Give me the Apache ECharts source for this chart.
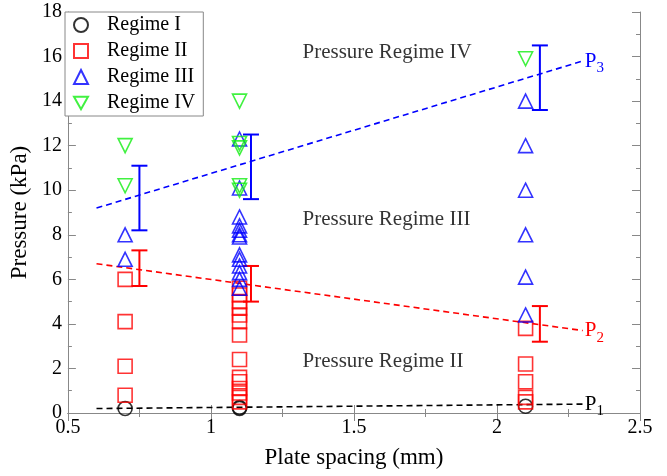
<!DOCTYPE html>
<html>
<head>
<meta charset="utf-8">
<script src="https://cdn.jsdelivr.net/npm/echarts@6/dist/echarts.min.js"></script>
<style>
  html, body { margin: 0; padding: 0; background: #fff; }
  #main { width: 667px; height: 476px; }
</style>
</head>
<body>
<div id="main"></div>
<script>
var chartDom = document.getElementById('main');
var myChart = echarts.init(chartDom);
var option;

var FONT = 'Liberation Serif';

// measured points, [plate spacing, pressure]
var regimeI = [[0.7, 0.2], [1.1, 0.2], [1.1, 0.25], [2.1, 0.3]];
var regimeII = [
  [0.7, 6.0], [0.7, 4.1], [0.7, 2.1], [0.7, 0.8],
  [1.1, 5.6], [1.1, 5.3], [1.1, 5.0], [1.1, 4.7], [1.1, 4.4], [1.1, 4.1], [1.1, 3.5],
  [1.1, 2.4], [1.1, 1.6], [1.1, 1.4], [1.1, 1.1], [1.1, 0.9], [1.1, 0.7], [1.1, 0.5],
  [2.1, 3.8], [2.1, 2.2], [2.1, 1.4], [2.1, 0.7], [2.1, 0.5]
];
var regimeIII = [
  [0.7, 8.0], [0.7, 6.9],
  [1.1, 12.3], [1.1, 10.1], [1.1, 8.8], [1.1, 8.4], [1.1, 8.2], [1.1, 8.0], [1.1, 7.9],
  [1.1, 7.1], [1.1, 6.9], [1.1, 6.6], [1.1, 6.3], [1.1, 6.0], [1.1, 5.6],
  [2.1, 14.0], [2.1, 12.0], [2.1, 10.0], [2.1, 8.0], [2.1, 6.1], [2.1, 4.4]
];
var regimeIV = [
  [0.7, 12.0], [0.7, 10.2],
  [1.1, 14.0], [1.1, 12.1], [1.1, 11.9], [1.1, 10.2], [1.1, 10.0],
  [2.1, 15.9]
];

// fitted boundaries
var lineP1 = [[0.6, 0.2], [2.3, 0.4]];
var lineP2 = [[0.6, 6.7], [2.3, 3.7]];
var lineP3 = [[0.6, 9.2], [2.3, 15.8]];

// error bars [x, low, high]
var errP2 = [[0.75, 5.7, 7.3], [1.14, 5.0, 6.6], [2.15, 3.2, 4.8]];
var errP3 = [[0.75, 8.2, 11.1], [1.14, 9.6, 12.5], [2.15, 13.6, 16.5]];

// region labels [x of left edge, y, text]
var regionLabels = [
  [1.32, 16.2, 'Pressure Regime IV'],
  [1.32, 8.7, 'Pressure Regime III'],
  [1.32, 2.3, 'Pressure Regime II']
];

var DOWN_TRI = 'path://M0,0 L10,0 L5,9 Z';

function errorBar(color) {
  return function (params, api) {
    var x = api.value(0);
    var lo = api.coord([x, api.value(1)]);
    var hi = api.coord([x, api.value(2)]);
    var w = 8;
    var style = { stroke: color, lineWidth: 2 };
    return {
      type: 'group',
      children: [
        { type: 'line', shape: { x1: lo[0], y1: lo[1], x2: hi[0], y2: hi[1] }, style: style },
        { type: 'line', shape: { x1: lo[0] - w, y1: lo[1], x2: lo[0] + w, y2: lo[1] }, style: style },
        { type: 'line', shape: { x1: hi[0] - w, y1: hi[1], x2: hi[0] + w, y2: hi[1] }, style: style }
      ]
    };
  };
}

function scatter(name, data, symbol, color) {
  return {
    name: name,
    type: 'scatter',
    data: data,
    symbol: symbol,
    symbolSize: 14,
    itemStyle: { color: 'rgba(0,0,0,0)', borderColor: color, borderWidth: 1.6 },
    z: 5
  };
}

function fitLine(data, color, sub) {
  return {
    name: 'P' + sub,
    type: 'line',
    data: data,
    symbol: 'none',
    lineStyle: { color: color, type: [6, 4], width: 1.6 },
    endLabel: {
      show: true,
      distance: 2,
      formatter: '{a|P}{b|' + sub + '}',
      rich: {
        a: { fontFamily: FONT, fontSize: 21, color: color },
        b: { fontFamily: FONT, fontSize: 15, color: color, padding: [14, 0, 0, 0] }
      }
    },
    z: 3
  };
}

var axisLineStyle = { color: '#888', width: 1 };

option = {
  animation: false,
  backgroundColor: '#fff',
  grid: { left: 65, right: 27, top: 12, bottom: 63 },
  legend: {
    data: ['Regime I', 'Regime II', 'Regime III', 'Regime IV'],
    orient: 'vertical',
    left: 65,
    top: 12,
    itemWidth: 14,
    itemHeight: 14,
    itemGap: 6,
    padding: [3, 8, 3, 8],
    backgroundColor: '#fff',
    borderColor: '#888',
    borderWidth: 1,
    textStyle: { fontFamily: FONT, fontSize: 20, lineHeight: 20, color: '#000', padding: [0, 0, 0, 14] }
  },
  xAxis: [
    {
      type: 'value', min: 0.5, max: 2.5, interval: 0.5,
      name: 'Plate spacing (mm)', nameLocation: 'middle', nameGap: 33,
      nameTextStyle: { fontFamily: FONT, fontSize: 23, color: '#000' },
      axisLine: { lineStyle: axisLineStyle },
      axisTick: { inside: true, length: 8, lineStyle: axisLineStyle },
      minorTick: { show: true, splitNumber: 2, length: 4, lineStyle: axisLineStyle },
      axisLabel: { fontFamily: FONT, fontSize: 20, color: '#000', margin: 5 },
      splitLine: { show: false }
    },
    {
      type: 'value', position: 'top', min: 0.5, max: 2.5, interval: 0.5,
      axisLine: { show: true, lineStyle: axisLineStyle },
      axisTick: { show: true, inside: true, length: 8, lineStyle: axisLineStyle },
      minorTick: { show: true, splitNumber: 2, length: 4, lineStyle: axisLineStyle },
      axisLabel: { show: false },
      splitLine: { show: false }
    }
  ],
  yAxis: [
    {
      type: 'value', min: 0, max: 18, interval: 2,
      name: 'Pressure (kPa)', nameLocation: 'middle', nameGap: 32,
      nameTextStyle: { fontFamily: FONT, fontSize: 23, color: '#000' },
      axisLine: { show: true, lineStyle: axisLineStyle },
      axisTick: { show: true, inside: true, length: 8, lineStyle: axisLineStyle },
      minorTick: { show: true, splitNumber: 2, length: 4, lineStyle: axisLineStyle },
      axisLabel: { fontFamily: FONT, fontSize: 20, color: '#000', margin: 6 },
      splitLine: { show: false }
    },
    {
      type: 'value', position: 'right', min: 0, max: 18, interval: 2,
      axisLine: { show: true, lineStyle: axisLineStyle },
      axisTick: { show: true, inside: true, length: 8, lineStyle: axisLineStyle },
      minorTick: { show: true, splitNumber: 2, length: 4, lineStyle: axisLineStyle },
      axisLabel: { show: false },
      splitLine: { show: false }
    }
  ],
  series: [
    fitLine(lineP1, '#000', '1'),
    fitLine(lineP2, '#ff0000', '2'),
    fitLine(lineP3, '#0000ff', '3'),
    {
      type: 'custom', renderItem: errorBar('#ff0000'), data: errP2,
      encode: { x: 0, y: [1, 2] }, z: 4
    },
    {
      type: 'custom', renderItem: errorBar('#0000ff'), data: errP3,
      encode: { x: 0, y: [1, 2] }, z: 4
    },
    scatter('Regime I', regimeI, 'circle', '#000'),
    scatter('Regime II', regimeII, 'rect', '#ff0000'),
    scatter('Regime III', regimeIII, 'triangle', '#0000ff'),
    scatter('Regime IV', regimeIV, DOWN_TRI, '#11ee11'),
    {
      type: 'scatter',
      data: regionLabels,
      symbolSize: 0,
      silent: true,
      label: {
        show: true, position: 'right', distance: 0,
        formatter: function (p) { return p.value[2]; },
        fontFamily: FONT, fontSize: 21, color: '#000'
      }
    }
  ]
};

option && myChart.setOption(option);
</script>
</body>
</html>
